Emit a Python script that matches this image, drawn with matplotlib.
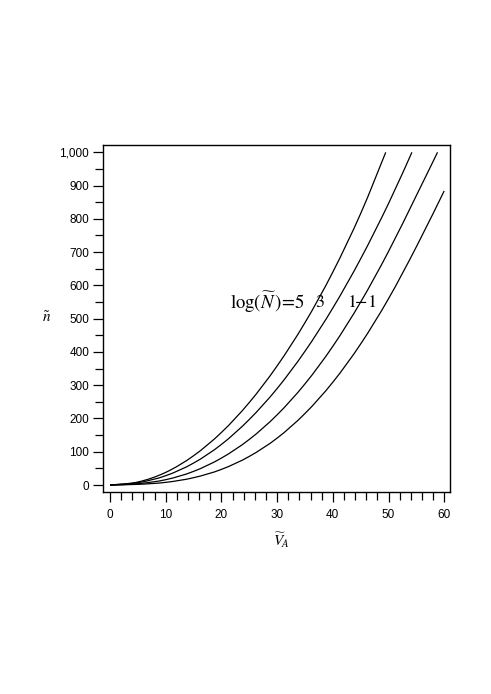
import matplotlib
matplotlib.use("Agg")
import matplotlib.pyplot as plt
from matplotlib.path import Path
from matplotlib.patches import PathPatch
from matplotlib.ticker import MultipleLocator, FuncFormatter

plt.rcParams['font.family'] = ['Liberation Sans', 'DejaVu Sans']
plt.rcParams['mathtext.fontset'] = 'stix'

# data
v_5 = [0, 5, 10, 15, 20, 25, 30, 35, 40, 45, 49.5]
n_5 = [0, 9, 38, 88, 158, 248, 358, 488, 640, 816, 1000]

v_3 = [0, 5, 10, 15, 20, 25, 30, 35, 40, 45, 50, 54.2]
n_3 = [0, 7, 28, 66, 122, 197, 290, 402, 532, 680, 846, 1000]

v_1 = [0, 5, 10, 15, 20, 25, 30, 35, 40, 45, 50, 55, 58.8]
n_1 = [0, 4, 16, 41, 81, 137, 211, 304, 417, 550, 702, 870, 1000]

v_m1 = [0, 5, 10, 15, 20, 25, 30, 35, 40, 45, 50, 55, 60]
n_m1 = [0, 2, 8, 22, 47, 86, 141, 215, 309, 424, 560, 716, 884]

curve_labels = [r'$\log(\widetilde{N}\,)\!=\!5$', '$3$', '$1$', r'$\!-\!1$']
label_x = [35.0, 37.7, 43.3, 45.9]
label_y = 550


def smooth_path(xs, ys):
    """Smooth (Catmull-Rom style Bezier) rendering through the given points."""
    pts = list(zip(xs, ys))
    verts = [pts[0]]
    codes = [Path.MOVETO]
    n = len(pts)
    for i in range(n - 1):
        p0 = pts[i - 1] if i > 0 else pts[i]
        p1 = pts[i]
        p2 = pts[i + 1]
        p3 = pts[i + 2] if i + 2 < n else pts[i + 1]
        c1 = (p1[0] + (p2[0] - p0[0]) / 6, p1[1] + (p2[1] - p0[1]) / 6)
        c2 = (p2[0] - (p3[0] - p1[0]) / 6, p2[1] - (p3[1] - p1[1]) / 6)
        verts += [c1, c2, p2]
        codes += [Path.CURVE4] * 3
    return Path(verts, codes)


fig = plt.figure(figsize=(4.91, 6.94), dpi=100)
ax = fig.add_axes([103/491, 1-492/694, 347/491, 347/694])

for v, n in [(v_5, n_5), (v_3, n_3), (v_1, n_1), (v_m1, n_m1)]:
    ax.add_patch(PathPatch(smooth_path(v, n), facecolor='none',
                           edgecolor='black', lw=0.9))

ax.set_xlim(-1.26, 61.04)
ax.set_ylim(-21, 1022)

ax.xaxis.set_major_locator(MultipleLocator(10))
ax.xaxis.set_minor_locator(MultipleLocator(2))
ax.yaxis.set_major_locator(MultipleLocator(100))
ax.yaxis.set_minor_locator(MultipleLocator(50))
ax.yaxis.set_major_formatter(FuncFormatter(lambda y, p: f'{int(round(y)):,}'))

ax.tick_params(which='both', direction='out', top=False, right=False, width=0.9, labelsize=8.5)
ax.tick_params(axis='y', which='major', length=7.5, pad=2.5)
ax.tick_params(axis='y', which='minor', length=5.5)
ax.tick_params(axis='x', which='major', length=7.5, pad=5)
ax.tick_params(axis='x', which='minor', length=5.5)
for s in ax.spines.values():
    s.set_linewidth(1.0)

# curve labels
ax.text(label_x[0], label_y, curve_labels[0], ha='right', va='center', fontsize=13.5)
for lx, lab in zip(label_x[1:], curve_labels[1:]):
    ax.text(lx, label_y, lab, ha='center', va='center', fontsize=13)

fig.text(47/491, 1-318/694, r'$\tilde{n}$', ha='center', va='center', fontsize=11)
fig.text(281/491, 1-540/694, r'$\widetilde{V}_{\!A}$', ha='center', va='center', fontsize=11)

fig.savefig('out.png', dpi=100)
